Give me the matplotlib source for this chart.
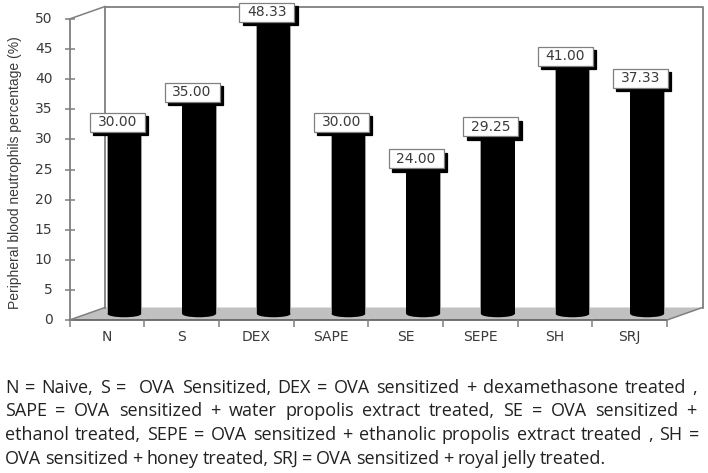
import matplotlib
matplotlib.use("Agg")
import matplotlib.pyplot as plt
from matplotlib.patches import Ellipse, Polygon, Rectangle
from matplotlib.transforms import IdentityTransform, offset_copy

categories = ["N", "S", "DEX", "SAPE", "SE", "SEPE", "SH", "SRJ"]
values = [30.00, 35.00, 48.33, 30.00, 24.00, 29.25, 41.00, 37.33]
y_ticks = list(range(0, 55, 5))
y_label = "Peripheral blood neutrophils percentage (%)"
caption_lines = [
    "N = Naive, S =  OVA Sensitized, DEX = OVA sensitized + dexamethasone treated ,",
    "SAPE = OVA sensitized + water propolis extract treated, SE = OVA sensitized +",
    "ethanol treated, SEPE = OVA sensitized + ethanolic propolis extract treated , SH =",
    "OVA sensitized + honey treated, SRJ = OVA sensitized + royal jelly treated.",
]

W, H, DPI = 708, 473, 100
fig = plt.figure(figsize=(W / DPI, H / DPI), dpi=DPI, facecolor="white")
L, R, T, B = 69.5, 667, 19, 320
ax = fig.add_axes([L / W, 1 - B / H, (R - L) / W, (B - T) / H])
ax.set_xlim(0, len(categories))
ax.set_ylim(0, 50)
ax.axis("off")
ID = IdentityTransform()


def px(x, y):
    return offset_copy(ax.transData, fig=fig, x=x, y=y, units="dots")


GRAY = "#7f7f7f"
TXT = "#3a3a3a"
DX, DY = 35.5, 12.5
back = px(DX, DY)
n = len(categories)
# floor
floor_pts = [ax.transData.transform(p) for p in [(0, 0), (n, 0)]]
floor_pts += [back.transform((n, 0)), back.transform((0, 0))]
ax.add_patch(Polygon(floor_pts, closed=True, transform=ID, fc="#c0c0c0", ec="none", zorder=0.5, clip_on=False))
# walls
for xs, ys, tr in [
    ([0, 0], [0, 50], ax.transData),
    ([0, 0, n, n], [0, 50, 50, 0], back),
]:
    ax.plot(xs, ys, color=GRAY, lw=1.3, transform=tr, clip_on=False, zorder=1)
ax.plot([0, n], [0, 0], color="#666666", lw=1.3, clip_on=False, zorder=1.5)
for xv, yv in [(0, 0), (0, 50), (n, 0)]:
    a, b = ax.transData.transform((xv, yv)), back.transform((xv, yv))
    ax.plot([a[0], b[0]], [a[1], b[1]], color=GRAY, lw=1.1, transform=ID, clip_on=False, zorder=1)

# ticks
for yv in y_ticks:
    ax.plot([0], [yv], color=GRAY, marker="_", ms=7, mew=1.1, clip_on=False, zorder=2)
    ax.annotate(str(yv), (0, yv), xytext=(-17, 0), textcoords="offset pixels", ha="right", va="center",
                fontsize=10, family="DejaVu Sans", color=TXT, annotation_clip=False)
for i in range(n + 1):
    ax.plot([i], [0], color=GRAY, marker="|", ms=6, mew=1.1, clip_on=False, zorder=2, transform=px(0, -3))
for i, c in enumerate(categories):
    ax.annotate(c, (i + 0.5, 0), xytext=(0, -17), textcoords="offset pixels", ha="center", va="center",
                fontsize=10, family="DejaVu Sans", color=TXT, annotation_clip=False)

# bars
BW = 33.5 / ((R - L) / n)
CX = 0.5 + 17.5 / ((R - L) / n)
bar_tr = px(0, 6)
positions = [i + CX for i in range(n)]
ax.bar(positions, values, width=BW + 0.02, color="#a0a0a0", transform=bar_tr, zorder=3, clip_on=False)
ax.bar(positions, values, width=BW, color="black", transform=bar_tr, zorder=4, clip_on=False)
for xc, v in zip(positions, values):
    c = bar_tr.transform((xc, 0))
    ax.add_patch(Ellipse(c, 33.5, 6.5, transform=ID, fc="black", ec="none", zorder=4, clip_on=False))
    # value label
    t = bar_tr.transform((xc, v))
    bx, by = t[0] - 7, t[1] + 11
    bw, bh = 55, 19
    for off, fc, ec, z in [(3.5, "black", "black", 5), (0, "white", "#808080", 6)]:
        ax.add_patch(Rectangle((bx - bw / 2 + off, by - bh / 2 - off), bw, bh, transform=ID, fc=fc, ec=ec,
                               lw=0.9, clip_on=False, zorder=z))
    ax.text(bx, by, f"{v:.2f}", transform=ID, ha="center", va="center", fontsize=10,
            family="DejaVu Sans", color=TXT, zorder=7, clip_on=False)

fig.text(15.5 / W, 1 - 172.5 / H, y_label, rotation=90, ha="center", va="center", fontsize=10,
         family="Liberation Sans", color=TXT)

# justified caption
renderer = fig.canvas.get_renderer()
left = 5
rights = [697, 697, 699, 606]
ys = [388, 411, 435, 459]
for line, right, y in zip(caption_lines, rights, ys):
    words = line.split(" ")
    arts = [fig.text(0, 1 - y / H, w, fontsize=13, family="Open Sans", color="#222222", va="center") for w in words]
    widths = [a.get_window_extent(renderer).width if w else 0 for a, w in zip(arts, words)]
    gap = (right - left - sum(widths)) / (len(words) - 1)
    x = left
    for a, w in zip(arts, widths):
        a.set_x(x / W)
        x += w + gap

fig.savefig("out.png", dpi=DPI)
